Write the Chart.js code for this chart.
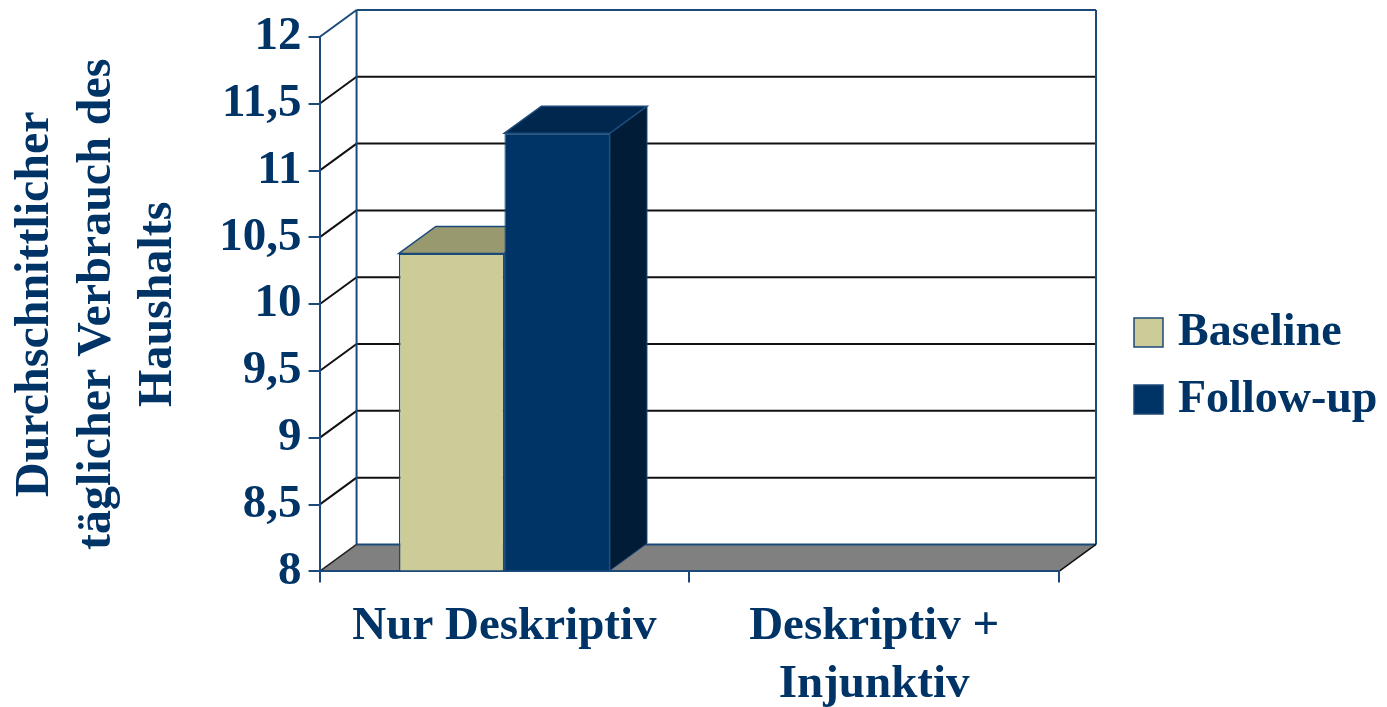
<!DOCTYPE html>
<html lang="de">
<head>
<meta charset="utf-8">
<title>Durchschnittlicher täglicher Verbrauch des Haushalts</title>
<script src="https://cdn.jsdelivr.net/npm/chart.js@4.4.1/dist/chart.umd.min.js"></script>
<style>
    html, body { margin: 0; padding: 0; background: #fff; }
    #chart { display: block; }
</style>
</head>
<body>
<canvas id="chart" width="1387" height="707"></canvas>
<script>
// Chart data
const categories = ['Nur Deskriptiv', ['Deskriptiv +', 'Injunktiv']];
const seriesNames = ['Baseline', 'Follow-up'];
const baselineValues = [10.38, null];
const followUpValues = [11.28, null];
const yTicks = [8, 8.5, 9, 9.5, 10, 10.5, 11, 11.5, 12];
const yTitle = ['Durchschnittlicher', 'täglicher Verbrauch des', 'Haushalts'];

// Styling
const FONT = "'Liberation Serif', 'Times New Roman', serif";
const TEXT_COLOR = '#003366';
const EDGE_COLOR = '#1B4A7A';
const FLOOR_COLOR = '#808080';

// Depth of the 3D box (offset from the front plane to the back wall)
const DEPTH_X = 37;
const DEPTH_Y = -27;

// Face colours per series
const faceColors = [
    { front: '#CCCC99', top: '#999970', side: '#6B6B4D' },
    { front: '#003366', top: '#00284F', side: '#001C36' }
];

function line(ctx, x1, y1, x2, y2, color, width) {
    ctx.beginPath();
    ctx.moveTo(x1, y1);
    ctx.lineTo(x2, y2);
    ctx.strokeStyle = color;
    ctx.lineWidth = width;
    ctx.stroke();
}

function face(ctx, points, fill, stroke, width) {
    ctx.beginPath();
    ctx.moveTo(points[0][0], points[0][1]);
    points.slice(1).forEach(p => ctx.lineTo(p[0], p[1]));
    ctx.closePath();
    ctx.fillStyle = fill;
    ctx.fill();
    ctx.strokeStyle = stroke;
    ctx.lineWidth = width;
    ctx.stroke();
}

// Draws back wall, side wall, grid lines, floor, bar tops/sides and legend
const box3d = {
    id: 'box3d',
    beforeDraw(chart) {
        const { ctx, chartArea, scales: { y } } = chart;
        const { left, right, top, bottom } = chartArea;
        const bx = left + DEPTH_X;
        const br = right + DEPTH_X;
        const bt = top + DEPTH_Y;
        const bb = bottom + DEPTH_Y;
        ctx.save();

        // grid lines on back wall and left side wall
        yTicks.forEach(v => {
            const py = y.getPixelForValue(v);
            if (v === yTicks[0] || v === yTicks[yTicks.length - 1]) return;
            line(ctx, bx, py + DEPTH_Y, br, py + DEPTH_Y, '#111', 2);
            line(ctx, left, py, bx, py + DEPTH_Y, '#111', 2);
        });

        // wall edges
        line(ctx, left, top, bx, bt, EDGE_COLOR, 2);
        line(ctx, bx, bt, br, bt, EDGE_COLOR, 2);
        line(ctx, bx, bt, bx, bb, EDGE_COLOR, 2);
        line(ctx, br, bt, br, bb, EDGE_COLOR, 2);

        // floor
        ctx.beginPath();
        ctx.moveTo(left, bottom);
        ctx.lineTo(right, bottom);
        ctx.lineTo(br, bb);
        ctx.lineTo(bx, bb);
        ctx.closePath();
        ctx.fillStyle = FLOOR_COLOR;
        ctx.fill();
        line(ctx, bx, bb, br, bb, EDGE_COLOR, 2);
        line(ctx, right, bottom, br, bb, '#111', 1.5);
        line(ctx, left, bottom, bx, bb, '#222', 1.5);

        ctx.restore();
    },
    // top and side faces go under all front faces, left to right
    beforeDatasetsDraw(chart) {
        const { ctx } = chart;
        ctx.save();
        ctx.lineJoin = 'miter';
        chart.data.datasets.forEach((ds, di) => {
            const colors = faceColors[di];
            chart.getDatasetMeta(di).data.forEach((bar, i) => {
                if (ds.data[i] == null) return;
                const { x, y, width, base } = bar.getProps(['x', 'y', 'width', 'base'], true);
                const l = x - width / 2;
                const r = x + width / 2;
                face(ctx, [[r, y], [r + DEPTH_X, y + DEPTH_Y], [r + DEPTH_X, base + DEPTH_Y], [r, base]],
                    colors.side, EDGE_COLOR, 1);
                face(ctx, [[l, y], [l + DEPTH_X, y + DEPTH_Y], [r + DEPTH_X, y + DEPTH_Y], [r, y]],
                    colors.top, EDGE_COLOR, 1.5);
            });
        });
        ctx.restore();
    },
    afterDraw(chart) {
        const { ctx, chartArea } = chart;
        const boxX = chartArea.right + 75;
        ctx.save();
        ctx.font = `bold 46px ${FONT}`;
        ctx.textBaseline = 'middle';
        chart.data.datasets.forEach((ds, i) => {
            const cy = 332 + i * 67;
            ctx.fillStyle = ds.backgroundColor;
            ctx.fillRect(boxX, cy - 14, 29, 29);
            ctx.strokeStyle = EDGE_COLOR;
            ctx.lineWidth = 1.5;
            ctx.strokeRect(boxX, cy - 14, 29, 29);
            ctx.fillStyle = TEXT_COLOR;
            ctx.fillText(ds.label, boxX + 44, cy + 1);
        });
        ctx.restore();
    }
};

const ctx = document.getElementById('chart').getContext('2d');
new Chart(ctx, {
    type: 'bar',
    data: {
        labels: categories,
        datasets: [
            {
                label: seriesNames[0],
                data: baselineValues,
                base: yTicks[0],
                backgroundColor: faceColors[0].front,
                borderColor: EDGE_COLOR,
                borderWidth: 1.5
            },
            {
                label: seriesNames[1],
                data: followUpValues,
                base: yTicks[0],
                backgroundColor: faceColors[1].front,
                borderColor: '#24507F',
                borderWidth: 1
            }
        ]
    },
    options: {
        responsive: false,
        animation: false,
        devicePixelRatio: 1,
        layout: {
            padding: { left: 0, top: 37, right: 328, bottom: -22 }
        },
        datasets: {
            bar: {
                categoryPercentage: 0.571,
                barPercentage: 1
            }
        },
        plugins: {
            legend: { display: false },
            tooltip: { enabled: false }
        },
        scales: {
            x: {
                grid: {
                    offset: true,
                    drawOnChartArea: false,
                    tickLength: 11,
                    color: EDGE_COLOR,
                    lineWidth: 2
                },
                border: { display: true, color: EDGE_COLOR, width: 2 },
                ticks: {
                    color: TEXT_COLOR,
                    font: { family: FONT, size: 47, weight: 'bold', lineHeight: 1.24 },
                    padding: 15,
                    maxRotation: 0,
                    autoSkip: false
                }
            },
            y: {
                min: 8,
                max: 12,
                afterBuildTicks: axis => {
                    axis.ticks = yTicks.map(v => ({ value: v }));
                },
                grid: {
                    drawOnChartArea: false,
                    tickLength: 11,
                    color: EDGE_COLOR,
                    lineWidth: 2
                },
                border: { display: true, color: EDGE_COLOR, width: 2 },
                ticks: {
                    color: TEXT_COLOR,
                    font: { family: FONT, size: 47, weight: 'bold' },
                    padding: 7,
                    callback: v => String(v).replace('.', ',')
                },
                title: {
                    display: true,
                    text: yTitle,
                    color: TEXT_COLOR,
                    font: { family: FONT, size: 48, weight: 'bold', lineHeight: 1.28 },
                    padding: { top: 5, bottom: 23 }
                }
            }
        }
    },
    plugins: [box3d]
});
</script>
</body>
</html>
